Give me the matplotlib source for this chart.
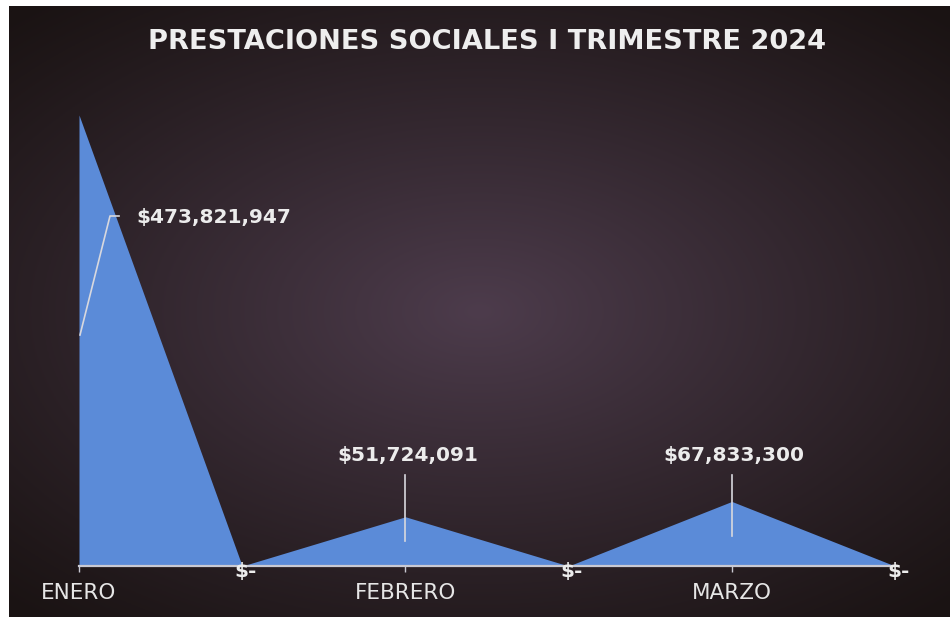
import numpy as np
import matplotlib
matplotlib.use("Agg")
from matplotlib import pyplot as plt

plt.rcParams['font.family'] = ['DejaVu Sans']

# data
puntos = [0, 1, 2, 3, 4, 5]
valores = [473821947, 0, 51724091, 0, 67833300, 0]
meses = ["ENERO", "FEBRERO", "MARZO"]
pos_meses = [0, 2, 4]
titulo = "PRESTACIONES SOCIALES I TRIMESTRE 2024"

W, H = 950, 617
fig = plt.figure(figsize=(W / 100, H / 100), dpi=100, facecolor="white")

# background panel with radial glow
bg = fig.add_axes([9 / W, 0, 1 - 9 / W, 1 - 6 / H])
bg.axis("off")
gx, gy = np.meshgrid(np.linspace(-1, 1, 400), np.linspace(-1, 1, 260))
r = np.sqrt((gx * 0.95) ** 2 + ((gy - 0.0) * 1.05) ** 2)
t = np.clip(1 - r / 1.4, 0, 1) ** 1.1
edge = np.array([0x1a, 0x13, 0x13]) / 255
centre = np.array([0x4d, 0x3c, 0x4c]) / 255
img = edge + (centre - edge) * t[..., None]
bg.imshow(img, aspect="auto", extent=[0, 1, 0, 1])
bg.set_xlim(0, 1)
bg.set_ylim(0, 1)

# main axes
x0, x1, y0, y1 = 79, 895, 566, 100
ax = fig.add_axes([x0 / W, (H - y0) / H, (x1 - x0) / W, (y0 - y1) / H])
ax.patch.set_alpha(0)
ymax = valores[0] * (y0 - y1) / (y0 - 115)
ax.set_xlim(0, 5)
ax.set_ylim(0, ymax)

ax.fill_between(puntos, valores, 0, color="#5b8bd8", linewidth=0)

for s in ["top", "right", "left"]:
    ax.spines[s].set_visible(False)
ax.spines["bottom"].set_color("#c9c9d2")
ax.spines["bottom"].set_linewidth(1.6)
ax.set_yticks([])
ax.set_xticks(pos_meses)
ax.set_xticklabels(meses, fontsize=15.5, color="#e6e6e6")
ax.tick_params(axis="x", length=4, width=1, color="#c9c9d2", pad=8)


def px(xp, yp):
    # pixel position -> data coords
    return (xp - x0) / (x1 - x0) * 5, (y0 - yp) / (y0 - y1) * ymax


lc = "#d8d8de"
lab = dict(color="#ececec", fontsize=14.5, fontweight="bold")

# ENERO label + leader
a, b, c = px(80, 335), px(110, 216), px(119, 216)
ax.plot([a[0], b[0], c[0]], [a[1], b[1], c[1]], color=lc, lw=1.2, clip_on=False)
tx = px(136, 218)
ax.text(tx[0], tx[1], "${:,}".format(valores[0]), ha="left", va="center", **lab)

# FEBRERO / MARZO labels
for i, ybot in [(2, 541), (4, 536)]:
    xc = (puntos[i] * (x1 - x0) / 5) + x0
    p, q = px(xc, 475), px(xc, ybot)
    ax.plot([p[0], q[0]], [p[1], q[1]], color=lc, lw=1.2)
    tt = px(xc + 2, 455)
    ax.text(tt[0], tt[1], "${:,}".format(valores[i]), ha="center", va="center", **lab)

# zero labels
for i in [1, 3, 5]:
    ax.annotate("$-", (puntos[i], valores[i]), xytext=(-8, -6), textcoords="offset pixels",
                ha="left", va="center", annotation_clip=False, **lab)

fig.text(487 / W, 1 - 42 / H, titulo, ha="center", va="center",
         color="#eeeeee", fontsize=19.6, fontweight="bold")

fig.savefig("out.png", dpi=100, facecolor="white")
